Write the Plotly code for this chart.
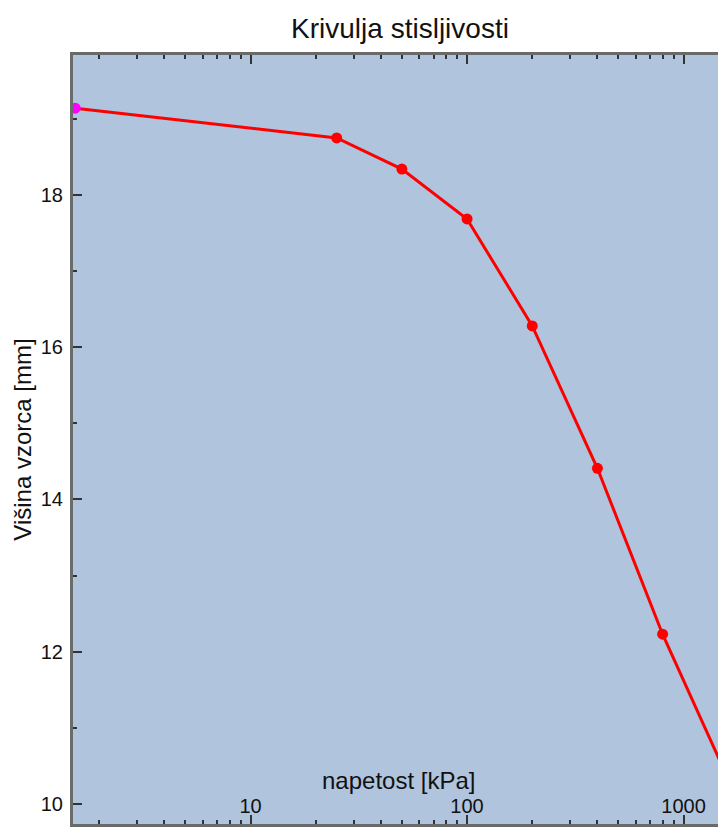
import plotly.graph_objects as go

# Data
napetost = [1.55, 25, 50, 100, 200, 400, 800, 1600]          # kPa
visina = [19.14, 18.75, 18.34, 17.685, 16.28, 14.41, 12.23, 10.34]  # mm
marker_colors = ["#ff00ff"] + ["#ff0000"] * (len(napetost) - 1)

x_major = [10, 100, 1000]
x_minor = [m * 10 ** k for k in range(0, 4) for m in range(2, 10)]
y_major = [10, 12, 14, 16, 18]
y_minor = [11, 13, 15, 17, 19]

FONT = "Liberation Sans, Arial, sans-serif"
XRANGE = [0.180, 3.159]

fig = go.Figure()
fig.add_trace(go.Scatter(
    x=napetost, y=visina, mode="lines+markers",
    line=dict(color="#ff0000", width=3),
    marker=dict(color=marker_colors, size=11, line=dict(width=0)),
    showlegend=False,
))
# invisible helper trace so the label axis exists
fig.add_trace(go.Scatter(x=[napetost[1]], y=[visina[1]], xaxis="x2",
                         mode="markers", marker=dict(opacity=0),
                         showlegend=False, hoverinfo="skip"))

fig.update_layout(
    width=718, height=828,
    margin=dict(l=73, r=0, t=55, b=4),
    paper_bgcolor="white",
    plot_bgcolor="#b0c4de",
    font=dict(family=FONT, color="#111111"),
    title=dict(text="Krivulja stisljivosti", x=400 / 718, xanchor="center",
               xref="container", y=1 - 28 / 828, yanchor="middle",
               font=dict(size=28, family=FONT, color="#111111")),
    xaxis=dict(
        type="log", range=XRANGE,
        tickvals=x_major, showticklabels=False,
        ticks="inside", ticklen=9, tickwidth=2, tickcolor="#333333",
        showgrid=False, zeroline=False,
        showline=True, linecolor="#6a6a6a", linewidth=3, mirror="ticks",
        minor=dict(tickvals=x_minor, ticks="inside", ticklen=4,
                   tickwidth=2, tickcolor="#333333", showgrid=False),
    ),
    xaxis2=dict(
        type="log", range=XRANGE, overlaying="x", anchor="free",
        position=(824 - 792) / 769, side="bottom",
        tickvals=x_major, ticktext=[str(v) for v in x_major],
        ticks="", showline=False, showgrid=False, zeroline=False,
        tickfont=dict(size=20, family=FONT, color="#111111"),
    ),
    yaxis=dict(
        range=[9.737, 19.839],
        tickvals=y_major, ticktext=[str(v) for v in y_major],
        ticks="inside", ticklen=9, tickwidth=2, tickcolor="#333333",
        tickfont=dict(size=20, family=FONT, color="#111111"),
        ticklabelstandoff=3,
        showgrid=False, zeroline=False,
        showline=True, linecolor="#6a6a6a", linewidth=3,
        minor=dict(tickvals=y_minor, ticks="inside", ticklen=4,
                   tickwidth=2, tickcolor="#333333", showgrid=False),
        title=dict(text="Višina vzorca [mm]", standoff=3,
                   font=dict(size=24, family=FONT, color="#111111")),
    ),
    annotations=[dict(
        text="napetost [kPa]", xref="paper", yref="paper",
        x=(398 - 73) / 645, y=(824 - 780) / 769, xanchor="center", yanchor="middle",
        showarrow=False, font=dict(size=24, family=FONT, color="#111111"),
    )],
)

fig.write_html("out.html")
